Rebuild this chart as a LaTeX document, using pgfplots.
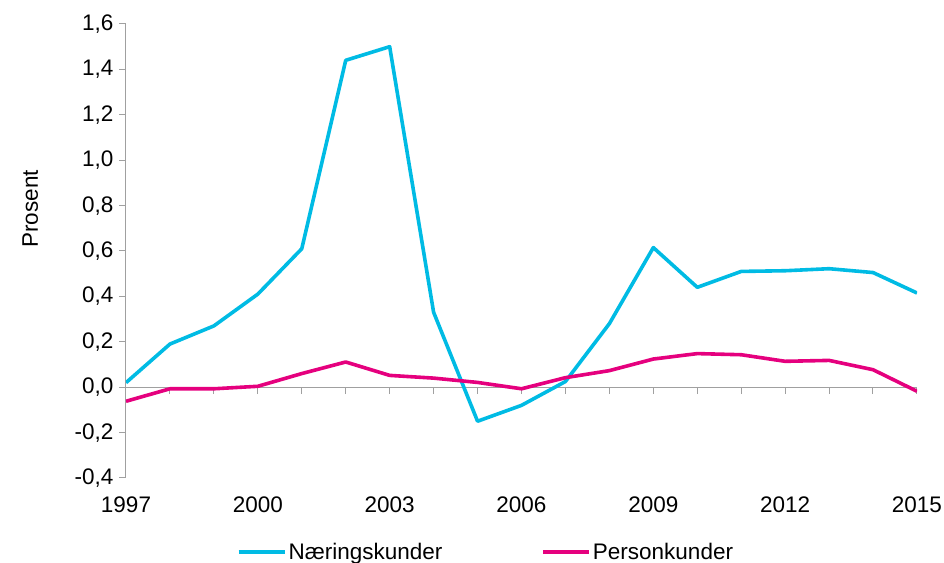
\documentclass[border=0pt]{standalone}
\usepackage{fontspec}
\setmainfont{Liberation Sans}
\usepackage{pgfplots}
\pgfplotsset{compat=1.18}
\definecolor{naering}{RGB}{0,187,228}
\definecolor{person}{RGB}{229,0,126}
\definecolor{axisgray}{RGB}{160,160,160}

\begin{document}
\begin{tikzpicture}
\begin{axis}[
  name=main,
  scale only axis, width=791pt, height=454pt,
  xmin=1997, xmax=2015, ymin=-0.4, ymax=1.6,
  axis x line=middle, axis y line=left,
  hide obscured x ticks=false, hide obscured y ticks=false,
  axis line style={-, axisgray, line width=1pt},
  xtick={1997,...,2015},
  xticklabels={1997,,,2000,,,2003,,,2006,,,2009,,,2012,,,2015},
  ytick={-0.4,-0.2,0,0.2,0.4,0.6,0.8,1.0,1.2,1.4,1.6},
  ytick align=outside,
  xtick align=center,
  tick style={axisgray, line width=1pt},
  major tick length=7pt,
  xtick style={yshift=-3.5pt},
  font=\fontsize{22.5}{27}\selectfont,
  xticklabel style={yshift=-103pt},
  yticklabel style={/pgf/number format/fixed, /pgf/number format/fixed zerofill,
    /pgf/number format/precision=1, /pgf/number format/use comma,
    /pgf/number format/assume math mode=true, xshift=-2pt},
  ylabel={Prosent},
  ylabel style={at={(axis description cs:-0.121,0.593)}, rotate=0, anchor=center},
  legend columns=2,
  legend style={draw=none, fill=none, at={(axis description cs:0.14,-0.163)},
    anchor=west, inner sep=0pt, nodes={inner xsep=2pt},
    /tikz/every even column/.append style={column sep=97pt}},
  legend image code/.code={\draw[#1] (0pt,0pt) -- (46pt,0pt);},
  every axis plot/.append style={line width=3.6pt, line join=round},
]
% Næringskunder
\addplot[naering] coordinates {
  (1997,0.02) (1998,0.19) (1999,0.27) (2000,0.41) (2001,0.61)
  (2002,1.44) (2003,1.50) (2004,0.33) (2005,-0.15) (2006,-0.08)
  (2007,0.025) (2008,0.28) (2009,0.615) (2010,0.44) (2011,0.51)
  (2012,0.513) (2013,0.522) (2014,0.505) (2015,0.415)
};
\addlegendentry{Næringskunder}
% Personkunder
\addplot[person] coordinates {
  (1997,-0.062) (1998,-0.007) (1999,-0.007) (2000,0.004) (2001,0.06)
  (2002,0.111) (2003,0.052) (2004,0.04) (2005,0.021) (2006,-0.007)
  (2007,0.042) (2008,0.073) (2009,0.124) (2010,0.148) (2011,0.143)
  (2012,0.114) (2013,0.118) (2014,0.077) (2015,-0.018)
};
\addlegendentry{Personkunder}
\end{axis}
\pgfresetboundingbox
\path[use as bounding box] ([xshift=-126pt,yshift=-85pt]main.south west)
  rectangle ([xshift=27pt,yshift=24pt]main.north east);
\end{tikzpicture}
\end{document}
